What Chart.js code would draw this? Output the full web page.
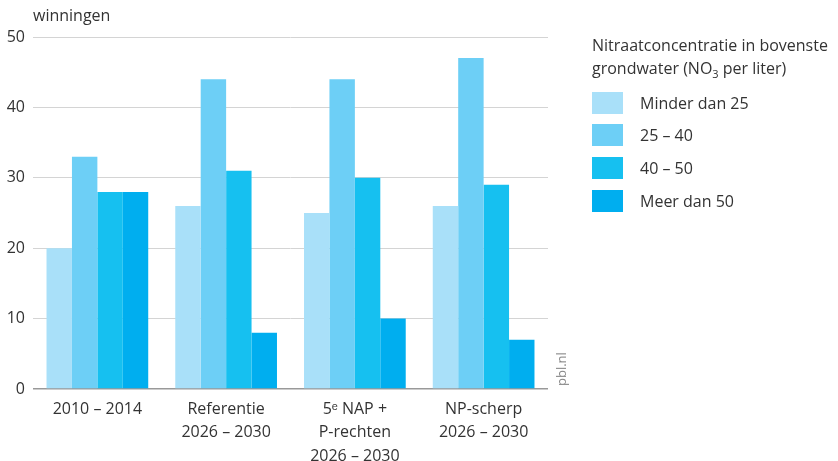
<!DOCTYPE html>
<html>
<head>
<meta charset="utf-8">
<script src="https://cdn.jsdelivr.net/npm/chart.js@4.4.0/dist/chart.umd.min.js"></script>
<style>
  body { margin: 0; background: #fff; font-family: 'Open Sans', sans-serif; color: #333; }
  #wrap { position: relative; width: 838px; height: 461px; }
  #unit { position: absolute; left: 33px; top: 4px; font-size: 16px; }
  #legend { position: absolute; left: 592px; top: 34px; font-size: 16px; }
  #legend .title { line-height: 23px; margin-bottom: 1px; white-space: nowrap; }
  #legend .item { display: flex; align-items: center; height: 32.7px; }
  #legend .box { width: 31px; height: 22px; margin-right: 17px; }
  #src { position: absolute; left: 552px; top: 386px; font-size: 13px; color: #888;
         transform: rotate(-90deg); transform-origin: left top; }
</style>
</head>
<body>
<div id="wrap">
  <canvas id="chart" width="838" height="461"></canvas>
  <div id="unit">winningen</div>
  <div id="legend">
    <div class="title">Nitraatconcentratie in bovenste<br>grondwater (NO<sub style="font-size:11px">3</sub> per liter)</div>
  </div>
  <div id="src">pbl.nl</div>
</div>
<script>
// ---- data ----
const categories = [
  ['2010 – 2014'],
  ['Referentie', '2026 – 2030'],
  ['5ᵉ NAP +', 'P-rechten', '2026 – 2030'],
  ['NP-scherp', '2026 – 2030']
];
const seriesNames = ['Minder dan 25', '25 – 40', '40 – 50', 'Meer dan 50'];
const seriesColors = ['#a9e0f9', '#6dcff6', '#16c0f0', '#00aeef'];
const lessThan25 = [20, 26, 25, 26];
const from25to40 = [33, 44, 44, 47];
const from40to50 = [28, 31, 30, 29];
const moreThan50 = [28, 8, 10, 7];
const yTicks = [0, 10, 20, 30, 40, 50];

const seriesValues = [lessThan25, from25to40, from40to50, moreThan50];

// legend (html, so the subscript works)
const legendEl = document.getElementById('legend');
seriesNames.forEach((name, i) => {
  const row = document.createElement('div');
  row.className = 'item';
  row.innerHTML = '<span class="box" style="background:' + seriesColors[i] + '"></span>' + name;
  legendEl.appendChild(row);
});

new Chart(document.getElementById('chart'), {
  type: 'bar',
  data: {
    labels: categories,
    datasets: seriesNames.map((name, i) => ({
      label: name,
      data: seriesValues[i],
      backgroundColor: seriesColors[i],
      borderWidth: 0,
      barPercentage: 1,
      categoryPercentage: 0.79
    }))
  },
  options: {
    responsive: false,
    animation: false,
    layout: { padding: { top: 37, right: 290, left: 0, bottom: 0 } },
    plugins: { legend: { display: false }, tooltip: { enabled: false } },
    scales: {
      x: {
        grid: { display: false },
        border: { display: false },
        ticks: {
          color: '#333',
          font: { family: "'Open Sans', sans-serif", size: 16, lineHeight: 1.45 },
          padding: 1,
          maxRotation: 0,
          autoSkip: false
        },
        afterFit(scale) { scale.height = 72; }
      },
      y: {
        min: 0,
        max: 50,
        afterBuildTicks(scale) { scale.ticks = yTicks.map(v => ({ value: v })); },
        grid: {
          color: ctx => ctx.tick && ctx.tick.value === 0 ? '#999' : '#d4d4d4',
          lineWidth: ctx => ctx.tick && ctx.tick.value === 0 ? 1.5 : 1,
          drawTicks: false
        },
        border: { display: false },
        ticks: {
          color: '#333',
          font: { family: "'Open Sans', sans-serif", size: 16 },
          padding: 8
        },
        afterFit(scale) { scale.width = 33; }
      }
    }
  }
});
</script>
</body>
</html>
